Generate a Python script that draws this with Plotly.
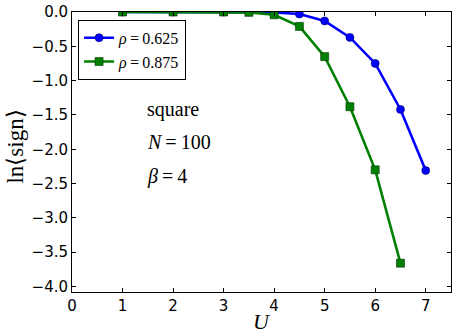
import plotly.graph_objects as go

# sign problem data, square lattice N=100, beta=4
u_low = [1, 2, 3, 3.5, 4, 4.5, 5, 5.5, 6, 6.5, 7]
sign_low = [0.0, 0.0, 0.0, 0.0, -0.005, -0.03, -0.13, -0.37, -0.75, -1.42, -2.31]

u_high = [1, 2, 3, 3.5, 4, 4.5, 5, 5.5, 6, 6.5]
sign_high = [0.0, 0.0, 0.0, -0.005, -0.04, -0.21, -0.65, -1.38, -2.30, -3.66]

names = ['<i>ρ</i>\u2009=\u20090.625', '<i>ρ</i>\u2009=\u20090.875']
notes = ['square', '<i>N</i>\u2009=\u2009100', '<i>β</i>\u2009=\u20094']
note_y = [-1.42, -1.89, -2.40]

x_ticks = [0, 1, 2, 3, 4, 5, 6, 7]
y_ticks = [0.0, -0.5, -1.0, -1.5, -2.0, -2.5, -3.0, -3.5, -4.0]

serif = 'Liberation Serif'
sans = 'DejaVu Sans'

fig = go.Figure()
fig.add_trace(go.Scatter(x=u_low, y=sign_low, mode='lines+markers', name=names[0],
                         line=dict(color='#0000ff', width=2.6),
                         marker=dict(symbol='circle', size=8, color='#0000ff',
                                     line=dict(color='#000060', width=0.6))))
fig.add_trace(go.Scatter(x=u_high, y=sign_high, mode='lines+markers', name=names[1],
                         line=dict(color='#008000', width=2.6),
                         marker=dict(symbol='square', size=8, color='#008000',
                                     line=dict(color='#003000', width=0.6))))

for txt, yy in zip(notes, note_y):
    fig.add_annotation(x=1.45, y=yy, xref='x', yref='y', text=txt, showarrow=False,
                       xanchor='left', yanchor='middle',
                       font=dict(family=serif, size=20, color='black'))

# axis titles placed by hand, margins fixed
fig.add_annotation(x=0.5, y=-0.105, xref='paper', yref='paper', text='<i>U</i>',
                   showarrow=False, xanchor='center', yanchor='middle',
                   font=dict(family=serif, size=22, color='black'))
fig.add_annotation(x=-0.15, y=0.52, xref='paper', yref='paper', text='ln⟨sign⟩',
                   showarrow=False, xanchor='center', yanchor='middle', textangle=-90,
                   font=dict(family=serif, size=23, color='black'))

axis_common = dict(showline=True, linecolor='black', linewidth=1, mirror='ticks',
                   ticks='inside', ticklen=4, tickcolor='black', showgrid=False,
                   zeroline=False, automargin=False,
                   tickfont=dict(family=sans, size=15, color='black'))

fig.update_layout(
    width=457, height=336,
    margin=dict(l=72, r=6, t=12, b=44),
    plot_bgcolor='white', paper_bgcolor='white',
    xaxis=dict(range=[0, 7.5], tickvals=x_ticks, ticktext=[str(v) for v in x_ticks],
               **axis_common),
    yaxis=dict(range=[-4.08, 0], tickvals=y_ticks,
               ticktext=[f'{v:.1f}'.replace('-', '\u2212') for v in y_ticks],
               **axis_common),
    legend=dict(x=0.016, y=0.972, xanchor='left', yanchor='top',
                bgcolor='white', bordercolor='black', borderwidth=1,
                font=dict(family=serif, size=16, color='black'),
                itemwidth=30, tracegroupgap=0),
    showlegend=True,
)

# drop the browser's default body margin so the figure sits at the page corner
fig.write_html('out.html', config={'displayModeBar': False},
               post_script="document.body.style.margin='0';")
